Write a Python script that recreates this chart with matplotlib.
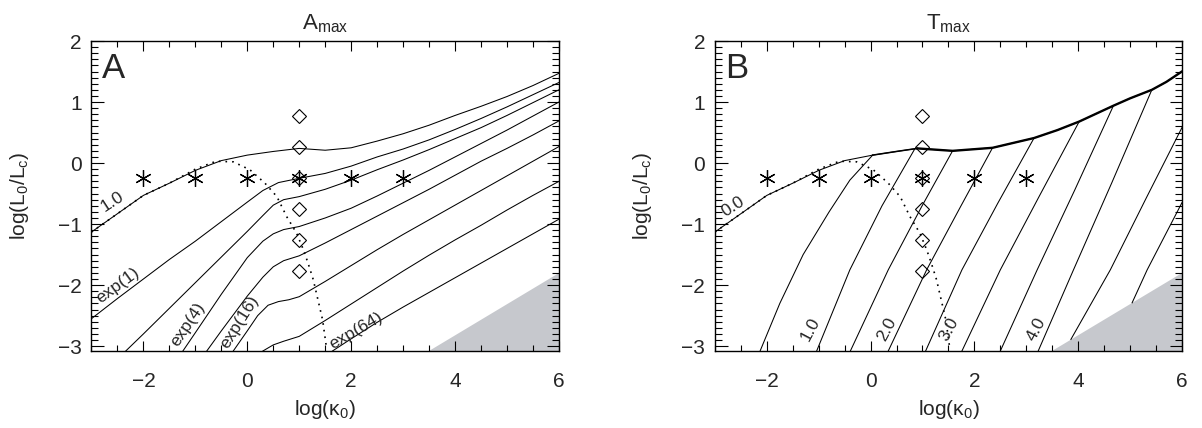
import matplotlib
matplotlib.use("Agg")
import matplotlib.pyplot as plt
from matplotlib.ticker import MultipleLocator
from matplotlib.patches import Polygon

plt.rcParams['font.family'] = ['Liberation Sans', 'DejaVu Sans']
plt.rcParams['mathtext.fontset'] = 'custom'
plt.rcParams['mathtext.rm'] = 'Liberation Sans'
plt.rcParams['mathtext.it'] = 'Liberation Sans:italic'

# ---- panel A: A_max contours (log kappa0, log L0/Lc) ----
a_top_x = [-3, -2.5, -2, -1.5, -1, -0.5, 0, 0.5, 1, 1.5, 2, 2.5, 3, 3.5, 4, 4.5, 5, 5.5, 6]
a_top_y = [-1.13, -0.83, -0.53, -0.33, -0.12, 0.04, 0.13, 0.19, 0.24, 0.21, 0.25, 0.36, 0.48,
           0.62, 0.78, 0.93, 1.09, 1.27, 1.47]

exp1_x = [-3, -2.5, -2, -1.5, -1, -0.5, 0, 0.3, 0.6, 1, 1.5, 2, 2.5, 3, 3.5, 4, 4.5, 5, 5.5, 6]
exp1_y = [-2.55, -2.22, -1.90, -1.58, -1.28, -0.96, -0.64, -0.45, -0.32, -0.25, -0.17, -0.05,
          0.10, 0.23, 0.38, 0.55, 0.73, 0.92, 1.12, 1.32]
exp2_x = [-2.34, -2, -1.5, -1, -0.5, 0, 0.3, 0.5, 0.7, 1, 1.5, 2, 2.5, 3, 3.5, 4, 4.5, 5, 5.5, 6]
exp2_y = [-3.08, -2.80, -2.38, -1.96, -1.54, -1.12, -0.86, -0.69, -0.60, -0.55, -0.43, -0.28,
          -0.11, 0.05, 0.22, 0.40, 0.58, 0.78, 0.99, 1.20]
exp4_x = [-1.24, -1, -0.5, 0, 0.3, 0.5, 0.7, 1, 1.5, 2, 2.5, 3, 3.5, 4, 4.5, 5, 5.5, 6]
exp4_y = [-3.08, -2.78, -2.15, -1.55, -1.28, -1.16, -1.09, -1.04, -0.90, -0.74, -0.54, -0.33,
          -0.12, 0.10, 0.32, 0.54, 0.77, 1.00]
exp8_x = [-0.78, -0.5, 0, 0.3, 0.5, 0.7, 1, 1.5, 2, 2.5, 3, 3.5, 4, 4.5, 5, 5.5, 6]
exp8_y = [-3.08, -2.75, -2.18, -1.87, -1.70, -1.60, -1.52, -1.31, -1.09, -0.87, -0.65, -0.43,
          -0.20, 0.03, 0.24, 0.46, 0.69]
exp16_x = [-0.27, 0, 0.2, 0.4, 0.6, 0.8, 1, 1.5, 2, 2.5, 3, 3.5, 4, 4.5, 5, 5.5, 6]
exp16_y = [-3.08, -2.75, -2.50, -2.33, -2.27, -2.24, -2.19, -1.94, -1.68, -1.42, -1.17, -0.93,
           -0.69, -0.45, -0.21, 0.03, 0.27]
exp32_x = [0.30, 0.5, 0.7, 1, 1.5, 2, 2.5, 3, 3.5, 4, 4.5, 5, 5.5, 6]
exp32_y = [-3.08, -2.98, -2.92, -2.84, -2.58, -2.31, -2.04, -1.77, -1.51, -1.26, -1.02, -0.77,
           -0.53, -0.30]
exp64_x = [1.64, 2, 2.5, 3, 3.5, 4, 4.5, 5, 5.5, 6]
exp64_y = [-3.08, -2.88, -2.61, -2.36, -2.12, -1.88, -1.64, -1.40, -1.16, -0.92]

# ---- panel B: T_max contours ----
b_top_x = [-3, -2.5, -2, -1.5, -1, -0.5, 0.04, 0.5, 0.9, 1.58, 2.35, 3.15, 3.6, 4.02, 4.68,
           5.0, 5.42, 5.7, 6]
b_top_y = [-1.13, -0.83, -0.53, -0.33, -0.12, 0.04, 0.13, 0.19, 0.24, 0.20, 0.25, 0.41, 0.54,
           0.68, 0.94, 1.06, 1.20, 1.33, 1.50]
t05_x = [-2.13, -1.75, -1.3, -0.8, -0.4, 0.04]
t05_y = [-3.08, -2.3, -1.5, -0.8, -0.28, 0.13]
t10_x = [-1.04, -0.40, 0.22, 0.85]
t10_y = [-3.08, -1.75, -0.70, 0.23]
t15_x = [-0.39, 0.34, 0.98, 1.58]
t15_y = [-3.08, -1.75, -0.72, 0.20]
t20_x = [0.34, 1.08, 1.73, 2.35]
t20_y = [-3.08, -1.75, -0.72, 0.25]
t25_x = [1.06, 1.76, 2.45, 3.15]
t25_y = [-3.08, -1.75, -0.66, 0.41]
t30_x = [1.76, 2.50, 3.24, 4.02]
t30_y = [-3.08, -1.75, -0.56, 0.68]
t35_x = [2.50, 3.21, 3.93, 4.68]
t35_y = [-3.08, -1.75, -0.45, 0.94]
t40_x = [3.23, 3.91, 4.65, 5.42]
t40_y = [-3.08, -1.75, -0.32, 1.20]
t45_x = [3.86, 4.62, 5.32, 6.0]
t45_y = [-2.89, -1.75, -0.56, 0.58]
t50_x = [5.04, 5.33, 6.0]
t50_y = [-2.29, -1.75, -0.65]

# shared overlays
dot_x = [-3, -2.5, -2, -1.5, -1, -0.6, -0.27, 0.05, 0.34, 0.57, 0.76, 0.95, 1.08, 1.17, 1.27,
         1.36, 1.45, 1.52]
dot_y = [-1.13, -0.83, -0.53, -0.33, -0.10, 0.03, 0.02, -0.11, -0.33, -0.55, -0.88, -1.15,
         -1.42, -1.64, -1.91, -2.24, -2.57, -3.0]
star_x = [-2, -1, 0, 1, 2, 3]
star_y = [-0.24, -0.24, -0.24, -0.24, -0.24, -0.24]
diam_x = [1, 1, 1, 1, 1, 1]
diam_y = [0.77, 0.27, -0.24, -0.75, -1.26, -1.77]
tri_x = [3.5, 6, 6]
tri_y = [-3.08, -3.08, -1.8]

a_lines = [(exp1_x, exp1_y), (exp2_x, exp2_y), (exp4_x, exp4_y), (exp8_x, exp8_y),
           (exp16_x, exp16_y), (exp32_x, exp32_y), (exp64_x, exp64_y)]
a_labels = [("1.0", -2.6, -0.63, 33), ("exp(1)", -2.5, -2.0, 36), ("exp(4)", -1.14, -2.64, 56),
            ("exp(16)", -0.14, -2.6, 58), ("exp(64)", 2.1, -2.75, 30)]
b_lines = [(t05_x, t05_y), (t10_x, t10_y), (t15_x, t15_y), (t20_x, t20_y), (t25_x, t25_y),
           (t30_x, t30_y), (t35_x, t35_y), (t40_x, t40_y), (t45_x, t45_y), (t50_x, t50_y)]
b_labels = [("0.0", -2.65, -0.72, 33), ("1.0", -1.17, -2.72, 62), ("2.0", 0.31, -2.72, 62),
            ("3.0", 1.52, -2.72, 62), ("4.0", 3.2, -2.72, 62)]

LW = 0.75
INK = '#262626'
fig = plt.figure(figsize=(12.02, 4.28), dpi=100)
ax1 = fig.add_axes([0.0761, 0.1799, 0.3889, 0.7243])
ax2 = fig.add_axes([0.5948, 0.1799, 0.3885, 0.7243])


def common(ax, title, letter):
    ax.add_patch(Polygon(list(zip(tri_x, tri_y)), closed=True, facecolor='#c6c8cd',
                         edgecolor='none', zorder=1))
    ax.plot(dot_x, dot_y, color='black', lw=1.2, linestyle=(0, (1, 3)), zorder=3)
    ax.plot(star_x, star_y, linestyle='none', marker=(6, 2, 0), ms=12, mew=0.9,
            color='black', zorder=4)
    ax.plot(diam_x, diam_y, linestyle='none', marker='D', ms=7.5, mew=0.8,
            mfc='none', mec='black', zorder=4)
    ax.set_xlim(-3, 6)
    ax.set_ylim(-3.08, 2.0)
    ax.xaxis.set_major_locator(MultipleLocator(2))
    ax.xaxis.set_minor_locator(MultipleLocator(0.5))
    ax.yaxis.set_major_locator(MultipleLocator(1))
    ax.yaxis.set_minor_locator(MultipleLocator(0.1))
    ax.tick_params(which='both', direction='in', top=True, right=True, width=0.8,
                   labelsize=15, labelcolor=INK)
    ax.tick_params(axis='x', which='major', length=7, pad=15)
    ax.tick_params(axis='x', which='minor', length=4)
    ax.tick_params(axis='y', which='major', length=9, pad=7)
    ax.tick_params(axis='y', which='minor', length=5)
    for sp in ax.spines.values():
        sp.set_linewidth(1.0)
    ax.set_xlabel(r'log($\mathrm{\kappa}_0$)', fontsize=15, color=INK)
    ax.set_ylabel(r'log(L$_0$/L$_\mathrm{c}$)', fontsize=15, color=INK)
    ax.xaxis.set_label_coords(0.5, -0.15)
    ax.yaxis.set_label_coords(-0.13, 0.5)
    ax.set_title(title, fontsize=16, pad=8, color=INK)
    ax.text(-2.8, 1.39, letter, fontsize=25, ha='left', va='baseline', color=INK)


common(ax1, r'A$_\mathrm{max}$', 'A')
common(ax2, r'T$_\mathrm{max}$', 'B')

ax1.plot(a_top_x, a_top_y, color='black', lw=LW, zorder=2)
for xs, ys in a_lines:
    ax1.plot(xs, ys, color='black', lw=LW, zorder=2)
for s, x, y, r in a_labels:
    ax1.text(x, y, s, fontsize=12.5, rotation=r, ha='center', va='center',
             rotation_mode='anchor', color=INK)

ax2.plot(b_top_x, b_top_y, color='black', lw=LW, zorder=2)
ax2.plot(b_top_x[8:], b_top_y[8:], color='black', lw=1.7, zorder=2)
ax2.plot(b_top_x[6:9], b_top_y[6:9], color='black', lw=1.1, zorder=2)
for xs, ys in b_lines:
    ax2.plot(xs, ys, color='black', lw=LW, zorder=2)
for s, x, y, r in b_labels:
    ax2.text(x, y, s, fontsize=12.5, rotation=r, ha='center', va='center',
             rotation_mode='anchor', color=INK)

fig.savefig('out.png', dpi=100)
